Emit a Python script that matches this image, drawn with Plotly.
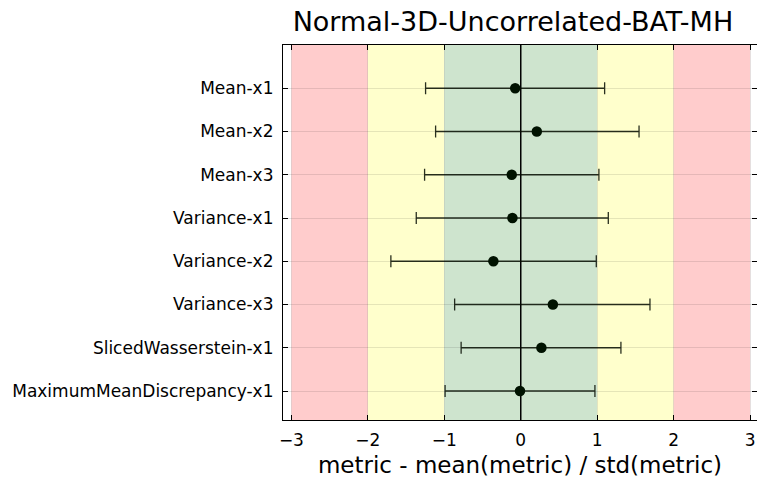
import plotly.graph_objects as go

title = "Normal-3D-Uncorrelated-BAT-MH"
categories = ["Mean-x1", "Mean-x2", "Mean-x3", "Variance-x1", "Variance-x2",
              "Variance-x3", "SlicedWasserstein-x1", "MaximumMeanDiscrepancy-x1"]
values = [-0.073, 0.21, -0.118, -0.109, -0.358, 0.42, 0.27, -0.01]
lower = [-1.245, -1.114, -1.258, -1.367, -1.699, -0.865, -0.78, -0.99]
upper = [1.097, 1.547, 1.022, 1.145, 0.988, 1.69, 1.31, 0.97]

band_edges = [-3, -2, -1, 1, 2, 3]
band_colors = ["rgb(255,204,204)", "rgb(255,255,204)", "rgb(206,228,206)",
               "rgb(255,255,204)", "rgb(255,204,204)"]
xticks = [-3, -2, -1, 0, 1, 2, 3]

# plot order: first category on top
cats_rev = categories[::-1]
vals_rev = values[::-1]
err_minus = [v - l for v, l in zip(values, lower)][::-1]
err_plus = [u - v for v, u in zip(values, upper)][::-1]

fig = go.Figure()
fig.add_trace(go.Scatter(
    x=vals_rev, y=cats_rev, mode="markers",
    marker=dict(size=10.5, color="#001200"),
    error_x=dict(type="data", symmetric=False, array=err_plus, arrayminus=err_minus,
                 color="rgba(5,12,0,0.85)", thickness=1.3, width=6),
    showlegend=False,
))

shapes = []
for i, c in enumerate(band_colors):
    shapes.append(dict(type="rect", xref="x", yref="paper",
                       x0=band_edges[i], x1=band_edges[i + 1], y0=0, y1=1,
                       fillcolor=c, line=dict(width=0), layer="between"))
shapes.append(dict(type="line", xref="x", yref="paper", x0=0, x1=0, y0=0, y1=1,
                   line=dict(color="black", width=1.5), layer="between"))

# page body adds an 8px offset; size the figure to compensate
fig.update_layout(
    width=757, height=472,
    margin=dict(l=275, r=8, t=37, b=60),
    paper_bgcolor="white", plot_bgcolor="white",
    font=dict(family="DejaVu Sans", color="black"),
    title=dict(text=title, x=0.667, xanchor="center", y=0.992, yanchor="top",
               pad=dict(t=0, b=0, l=0, r=0),
               font=dict(size=27, family="DejaVu Sans", color="black")),
    shapes=shapes,
    xaxis=dict(
        range=[-3.11, 3.09], tickvals=xticks,
        ticktext=[str(t).replace("-", "\u2212") for t in xticks],
        ticks="inside", ticklen=5, tickcolor="black", tickwidth=1,
        showline=True, linecolor="black", linewidth=1.2, mirror="allticks",
        showgrid=True, gridcolor="rgba(0,0,0,0.1)", gridwidth=1,
        zeroline=False, automargin=False,
        tickfont=dict(size=17), ticklabelstandoff=4,
        title=dict(text="metric - mean(metric) / std(metric)", font=dict(size=23), standoff=8),
    ),
    yaxis=dict(
        type="category", categoryorder="array", categoryarray=cats_rev,
        range=[-0.67, 8.0],
        ticks="inside", ticklen=5, tickcolor="black", tickwidth=1,
        showline=True, linecolor="black", linewidth=1.2, mirror="allticks",
        showgrid=True, gridcolor="rgba(0,0,0,0.1)", gridwidth=1,
        zeroline=False, automargin=False,
        tickfont=dict(size=17), ticklabelstandoff=5,
    ),
)

fig.write_html("out.html")
